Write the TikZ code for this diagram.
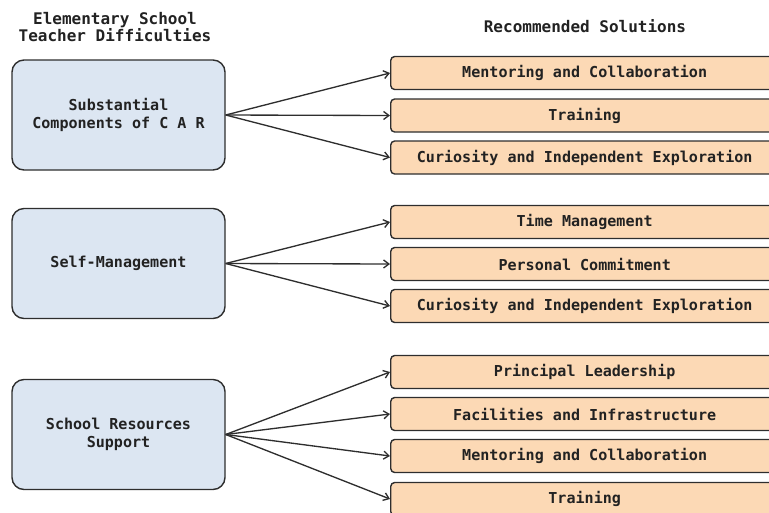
\documentclass[tikz,border=0pt]{standalone}
\usepackage{fontspec}
\setmonofont{DejaVu Sans Mono}
\usetikzlibrary{arrows.meta}
\definecolor{leftfill}{HTML}{DCE6F2}
\definecolor{rightfill}{HTML}{FCD9B5}
\definecolor{edgecol}{HTML}{2E2E2E}
\definecolor{txtcol}{HTML}{222222}
\newcommand{\soltext}[1]{\makebox[291pt][c]{#1}\hspace*{24pt}}
\tikzset{
  probbox/.style={draw=edgecol, line width=1.05pt, fill=leftfill, rounded corners=9pt,
    minimum width=159.75pt, minimum height=82.5pt, align=center, text=txtcol,
    font=\ttfamily\bfseries\fontsize{11.3pt}{14pt}\selectfont, inner sep=0pt},
  solbox/.style={draw=edgecol, line width=1.05pt, fill=rightfill, rounded corners=3pt,
    minimum height=24.75pt, text=txtcol, anchor=west,
    font=\ttfamily\bfseries\fontsize{11.3pt}{14pt}\selectfont, inner sep=0pt},
  headtxt/.style={align=center, text=txtcol, font=\ttfamily\bfseries\fontsize{12pt}{12.75pt}\selectfont, inner sep=0pt},
  conn/.style={draw=edgecol, line width=1pt, -{Straight Barb[length=4pt,width=6pt]}}
}
\begin{document}
\begin{tikzpicture}[x=0.75pt,y=-0.75pt]
\useasboundingbox (0,0) rectangle (769,512);
\node[headtxt] (h1) at (115,27.5) {Elementary School\\Teacher Difficulties};
\node[headtxt] (h2) at (585,26) {Recommended Solutions};

\node[probbox] (p1) at (118.5,115) {Substantial\\Components of C A R};
\node[probbox] (p2) at (118.5,263.5) {Self-Management};
\node[probbox] (p3) at (118.5,434.5) {School Resources\\Support};

\node[solbox] (s11) at (390,73) {\soltext{Mentoring and Collaboration}};
\node[solbox] (s12) at (390,115.5) {\soltext{Training}};
\node[solbox] (s13) at (390,157.5) {\soltext{Curiosity and Independent Exploration}};

\node[solbox] (s21) at (390,222) {\soltext{Time Management}};
\node[solbox] (s22) at (390,264) {\soltext{Personal Commitment}};
\node[solbox] (s23) at (390,306) {\soltext{Curiosity and Independent Exploration}};

\node[solbox] (s31) at (390,372) {\soltext{Principal Leadership}};
\node[solbox] (s32) at (390,414) {\soltext{Facilities and Infrastructure}};
\node[solbox] (s33) at (390,456) {\soltext{Mentoring and Collaboration}};
\node[solbox] (s34) at (390,499) {\soltext{Training}};

\foreach \s in {s11,s12,s13} \draw[conn] (p1.east) -- (\s.west);
\foreach \s in {s21,s22,s23} \draw[conn] (p2.east) -- (\s.west);
\foreach \s in {s31,s32,s33,s34} \draw[conn] (p3.east) -- (\s.west);
\end{tikzpicture}
\end{document}
